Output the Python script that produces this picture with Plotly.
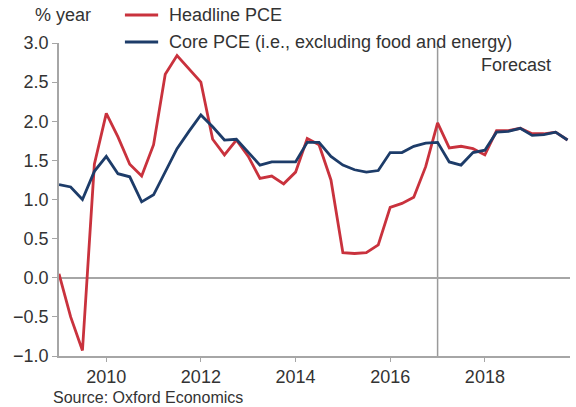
import pandas as pd
import plotly.graph_objects as go

# Quarterly observations, 2009Q1 - 2019Q4 (forecast from 2017Q1)
quarters = pd.date_range("2009-01-01", periods=44, freq="QS")

headline_pce = [
    0.05, -0.50, -0.93, 1.45,
    2.10, 1.80, 1.45, 1.30,
    1.70, 2.60, 2.84, 2.67,
    2.50, 1.77, 1.57, 1.76,
    1.55, 1.27, 1.30, 1.20,
    1.35, 1.78, 1.70, 1.25,
    0.32, 0.31, 0.32, 0.42,
    0.90, 0.95, 1.03, 1.42,
    1.98, 1.66, 1.68, 1.65,
    1.57, 1.88, 1.88, 1.91,
    1.84, 1.84, 1.86, 1.76,
]

core_pce = [
    1.19, 1.16, 1.00, 1.36,
    1.55, 1.33, 1.29, 0.97,
    1.06, 1.36, 1.65, 1.87,
    2.08, 1.93, 1.76, 1.77,
    1.60, 1.44, 1.48, 1.48,
    1.48, 1.73, 1.73, 1.55,
    1.44, 1.38, 1.35, 1.37,
    1.60, 1.60, 1.68, 1.72,
    1.73, 1.48, 1.44, 1.60,
    1.63, 1.86, 1.87, 1.91,
    1.82, 1.83, 1.86, 1.76,
]

series_names = ["Headline PCE", "Core PCE (i.e., excluding food and energy)"]
forecast_start = "2017-01-01"
year_ticks = ["2010-01-01", "2012-01-01", "2014-01-01", "2016-01-01", "2018-01-01"]
year_labels = ["2010", "2012", "2014", "2016", "2018"]
y_ticks = [-1.0, -0.5, 0.0, 0.5, 1.0, 1.5, 2.0, 2.5, 3.0]

RED = "#c9323d"
BLUE = "#1d3c69"
TEXT = "#333333"
AXIS = "#a6a6a6"
FONT = "Liberation Sans, Arial, sans-serif"

fig = go.Figure()
for values, name, color in [(headline_pce, series_names[0], RED),
                            (core_pce, series_names[1], BLUE)]:
    fig.add_trace(go.Scatter(
        x=quarters, y=values, mode="lines", name=name,
        line=dict(color=color, width=2.8), showlegend=False,
    ))

# Vertical divider marking the start of the forecast period
fig.add_shape(type="line", xref="x", yref="y",
              x0=forecast_start, x1=forecast_start, y0=-1, y1=3,
              line=dict(color="#9a9a9a", width=1.5), layer="below")

# Key above the plot: short line swatch followed by the series name
legend_rows = [(1.0895, RED, series_names[0]), (1.003, BLUE, series_names[1])]
for ypos, color, name in legend_rows:
    fig.add_shape(type="line", xref="paper", yref="paper",
                  x0=0.129, x1=0.194, y0=ypos, y1=ypos,
                  line=dict(color=color, width=3))
    fig.add_annotation(text=name, xref="paper", yref="paper",
                       x=0.211, y=ypos, xanchor="left", yanchor="middle",
                       showarrow=False, font=dict(size=18, color=TEXT))

fig.add_annotation(text="Forecast", xref="paper", yref="paper",
                   x=0.966, y=0.93, xanchor="right", yanchor="middle",
                   showarrow=False, font=dict(size=18, color=TEXT))
fig.add_annotation(text="% year", xref="paper", yref="paper",
                   x=-0.05, y=1.0895, xanchor="left", yanchor="middle",
                   showarrow=False, font=dict(size=18, color=TEXT))
fig.add_annotation(text="Source: Oxford Economics", xref="paper", yref="paper",
                   x=-0.016, y=-0.131, xanchor="left", yanchor="middle",
                   showarrow=False, font=dict(size=16, color=TEXT))

fig.update_layout(
    width=576, height=407,
    margin=dict(l=59, r=6, t=43, b=51),
    paper_bgcolor="white", plot_bgcolor="white",
    font=dict(family=FONT, size=18, color=TEXT),
    showlegend=False,
    xaxis=dict(
        type="date", range=["2009-01-01", "2019-10-20"],
        tickmode="array", tickvals=year_ticks, ticktext=year_labels,
        showgrid=False, zeroline=False,
        showline=True, linecolor=AXIS, linewidth=1.5,
        ticks="outside", ticklen=4, tickcolor=AXIS,
        tickfont=dict(size=18, color=TEXT),
    ),
    yaxis=dict(
        range=[-1, 3], tickmode="array", tickvals=y_ticks, tickformat=".1f",
        showgrid=False, zeroline=True, zerolinecolor=AXIS, zerolinewidth=1.5,
        showline=True, linecolor=AXIS, linewidth=1.5,
        ticks="outside", ticklen=5, tickcolor=AXIS,
        tickfont=dict(size=18, color=TEXT),
    ),
)

fig.write_html("out.html")
